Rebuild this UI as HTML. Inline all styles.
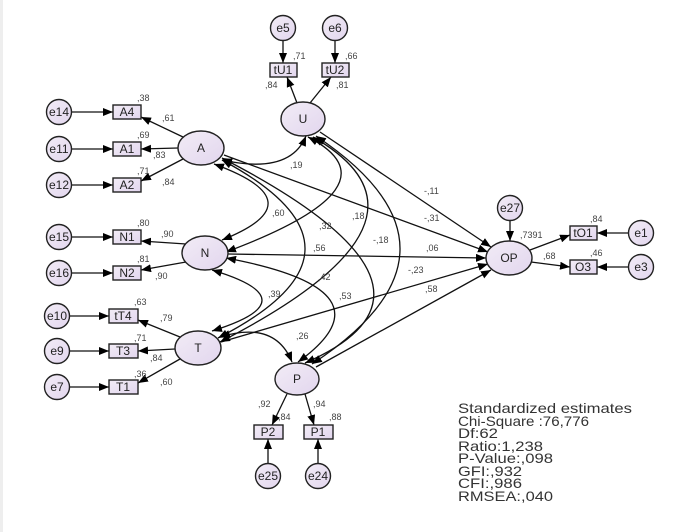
<!DOCTYPE html>
<html><head><meta charset="utf-8"><style>
html,body{margin:0;padding:0;background:#fff;}
svg{display:block;}
text{font-family:"Liberation Sans",Arial,sans-serif;}
.n{font-size:12px;fill:#222;text-anchor:middle;dominant-baseline:central;}
.l{font-size:9px;fill:#444;}
.s{font-size:14px;fill:#333;}
</style></head><body>
<svg width="684" height="532" viewBox="0 0 684 532" xmlns="http://www.w3.org/2000/svg">
<defs>
<linearGradient id="g" x1="0" y1="0" x2="1" y2="1"><stop offset="0" stop-color="#f2ecf6"/><stop offset="1" stop-color="#e2d6ee"/></linearGradient>
<marker id="a" viewBox="0 0 10 8" refX="10" refY="4" markerWidth="10" markerHeight="8" markerUnits="userSpaceOnUse" orient="auto-start-reverse"><path d="M0,0L10,4L0,8z" fill="#000"/></marker>
</defs>
<rect x="0" y="0" width="3" height="532" fill="#eee"/>
<g stroke="#111" stroke-width="1.3" fill="none">
<line x1="71" y1="112" x2="113" y2="112" marker-end="url(#a)"/>
<line x1="71" y1="149" x2="113" y2="149" marker-end="url(#a)"/>
<line x1="71" y1="185" x2="113" y2="185" marker-end="url(#a)"/>
<line x1="71" y1="237" x2="113" y2="237" marker-end="url(#a)"/>
<line x1="71" y1="273" x2="113" y2="273" marker-end="url(#a)"/>
<line x1="70" y1="316" x2="109" y2="316" marker-end="url(#a)"/>
<line x1="70" y1="351" x2="109" y2="351" marker-end="url(#a)"/>
<line x1="70" y1="387" x2="109" y2="387" marker-end="url(#a)"/>
<line x1="283" y1="41" x2="283" y2="63" marker-end="url(#a)"/>
<line x1="335" y1="41" x2="335" y2="63" marker-end="url(#a)"/>
<line x1="268" y1="464" x2="268" y2="439" marker-end="url(#a)"/>
<line x1="318" y1="464" x2="318" y2="439" marker-end="url(#a)"/>
<line x1="510" y1="220" x2="510" y2="241" marker-end="url(#a)"/>
<line x1="629" y1="233" x2="597" y2="233" marker-end="url(#a)"/>
<line x1="629" y1="267" x2="597" y2="267" marker-end="url(#a)"/>
<line x1="183" y1="137" x2="141" y2="117" marker-end="url(#a)"/>
<line x1="178" y1="148" x2="141" y2="149" marker-end="url(#a)"/>
<line x1="183" y1="159" x2="141" y2="181" marker-end="url(#a)"/>
<line x1="186" y1="244" x2="141" y2="241" marker-end="url(#a)"/>
<line x1="186" y1="262" x2="141" y2="270" marker-end="url(#a)"/>
<line x1="180" y1="337" x2="138" y2="320" marker-end="url(#a)"/>
<line x1="175" y1="349" x2="138" y2="351" marker-end="url(#a)"/>
<line x1="180" y1="359" x2="138" y2="383" marker-end="url(#a)"/>
<line x1="297" y1="103" x2="287" y2="77" marker-end="url(#a)"/>
<line x1="310" y1="103" x2="331" y2="77" marker-end="url(#a)"/>
<line x1="287" y1="394" x2="272" y2="425" marker-end="url(#a)"/>
<line x1="305" y1="394" x2="314" y2="425" marker-end="url(#a)"/>
<line x1="530" y1="250" x2="570" y2="235" marker-end="url(#a)"/>
<line x1="531" y1="262" x2="570" y2="267" marker-end="url(#a)"/>
<line x1="320" y1="132" x2="491" y2="247" marker-end="url(#a)"/>
<line x1="224" y1="155" x2="488" y2="252" marker-end="url(#a)"/>
<line x1="228" y1="254" x2="486" y2="258" marker-end="url(#a)"/>
<line x1="221" y1="342" x2="488" y2="264" marker-end="url(#a)"/>
<line x1="316" y1="367" x2="491" y2="270" marker-end="url(#a)"/>
<path d="M222,160 Q290,175 306,136" marker-start="url(#a)" marker-end="url(#a)"/>
<path d="M214,164 Q318,202 222,240" marker-start="url(#a)" marker-end="url(#a)"/>
<path d="M222,160 Q390,250 218,338" marker-start="url(#a)" marker-end="url(#a)"/>
<path d="M222,158 Q476,289 305,363" marker-start="url(#a)" marker-end="url(#a)"/>
<path d="M308,137 Q403,186 226,252" marker-start="url(#a)" marker-end="url(#a)"/>
<path d="M313,137 Q458,220 220,342" marker-start="url(#a)" marker-end="url(#a)"/>
<path d="M316,136 Q486,250 312,364" marker-start="url(#a)" marker-end="url(#a)"/>
<path d="M212,270 Q312,300 212,331" marker-start="url(#a)" marker-end="url(#a)"/>
<path d="M226,258 Q398,290 298,362" marker-start="url(#a)" marker-end="url(#a)"/>
<path d="M220,337 Q275,320 292,362" marker-start="url(#a)" marker-end="url(#a)"/>
</g>
<g stroke="#222" stroke-width="1.4" fill="url(#g)">
<circle cx="59" cy="112" r="12.5"/><circle cx="59" cy="149" r="12.5"/><circle cx="59" cy="185" r="12.5"/>
<circle cx="59" cy="237" r="12.5"/><circle cx="59" cy="273" r="12.5"/>
<circle cx="57" cy="316" r="12.5"/><circle cx="57" cy="351" r="12.5"/><circle cx="57" cy="387" r="12.5"/>
<circle cx="283" cy="28" r="12.5"/><circle cx="335" cy="28" r="12.5"/>
<circle cx="268" cy="476" r="12.5"/><circle cx="318" cy="476" r="12.5"/>
<circle cx="510" cy="208" r="12.5"/><circle cx="641" cy="233" r="12.5"/><circle cx="641" cy="267" r="12.5"/>
<ellipse cx="201" cy="148" rx="23" ry="17"/><ellipse cx="205" cy="253" rx="23" ry="17"/>
<ellipse cx="198" cy="348" rx="23" ry="17"/><ellipse cx="303" cy="119" rx="22" ry="17"/>
<ellipse cx="297" cy="379" rx="22" ry="16"/><ellipse cx="509" cy="258" rx="23" ry="17"/>
<rect x="113" y="105" width="28" height="14"/><rect x="113" y="142" width="28" height="14"/><rect x="113" y="178" width="28" height="14"/>
<rect x="113" y="230" width="28" height="14"/><rect x="113" y="266" width="28" height="14"/>
<rect x="109" y="309" width="29" height="14"/><rect x="109" y="344" width="29" height="14"/><rect x="109" y="380" width="29" height="14"/>
<rect x="270" y="63" width="27" height="14"/><rect x="322" y="63" width="27" height="14"/>
<rect x="254" y="425" width="29" height="14"/><rect x="304" y="425" width="29" height="14"/>
<rect x="570" y="226" width="27" height="14"/><rect x="570" y="260" width="27" height="14"/>
</g>
<g class="n">
<text x="59" y="112">e14</text><text x="59" y="149">e11</text><text x="59" y="185">e12</text>
<text x="59" y="237">e15</text><text x="59" y="273">e16</text>
<text x="57" y="316">e10</text><text x="57" y="351">e9</text><text x="57" y="387">e7</text>
<text x="283" y="28">e5</text><text x="335" y="28">e6</text>
<text x="268" y="476">e25</text><text x="318" y="476">e24</text>
<text x="510" y="208">e27</text><text x="641" y="233">e1</text><text x="641" y="267">e3</text>
<text x="201" y="148">A</text><text x="205" y="253">N</text><text x="198" y="348">T</text>
<text x="303" y="119">U</text><text x="297" y="379">P</text><text x="509" y="258">OP</text>
<text x="127" y="112">A4</text><text x="127" y="149">A1</text><text x="127" y="185">A2</text>
<text x="127" y="237">N1</text><text x="127" y="273">N2</text>
<text x="123" y="316">tT4</text><text x="123" y="351">T3</text><text x="123" y="387">T1</text>
<text x="283" y="70">tU1</text><text x="335" y="70">tU2</text>
<text x="268" y="432">P2</text><text x="318" y="432">P1</text>
<text x="583" y="233">tO1</text><text x="583" y="267">O3</text>
</g>
<g class="l">
<text x="137" y="101">,38</text><text x="162" y="121">,61</text>
<text x="137" y="138">,69</text><text x="153" y="158">,83</text>
<text x="137" y="174">,71</text><text x="162" y="185">,84</text>
<text x="137" y="226">,80</text><text x="161" y="237">,90</text>
<text x="137" y="262">,81</text><text x="155" y="279">,90</text>
<text x="134" y="305">,63</text><text x="160" y="321">,79</text>
<text x="134" y="341">,71</text><text x="150" y="361">,84</text>
<text x="134" y="377">,36</text><text x="160" y="385">,60</text>
<text x="293" y="59">,71</text><text x="345" y="59">,66</text>
<text x="265" y="88">,84</text><text x="336" y="88">,81</text>
<text x="258" y="407">,92</text><text x="278" y="420">,84</text>
<text x="313" y="407">,94</text><text x="329" y="420">,88</text>
<text x="520" y="238">,7391</text><text x="543" y="259">,68</text>
<text x="590" y="222">,84</text><text x="590" y="256">,46</text>
<text x="290" y="168">,19</text><text x="272" y="216">,60</text>
<text x="319" y="229">,32</text><text x="352" y="219">,18</text>
<text x="313" y="251">,56</text><text x="373" y="243">-,18</text>
<text x="268" y="297">,39</text><text x="318" y="280">,42</text>
<text x="339" y="299">,53</text><text x="296" y="339">,26</text>
<text x="424" y="194">-,11</text><text x="424" y="221">-,31</text>
<text x="426" y="251">,06</text><text x="408" y="273">-,23</text>
<text x="425" y="292">,58</text>
</g>
<g class="s">
<text x="458" y="413" textLength="174" lengthAdjust="spacingAndGlyphs">Standardized estimates</text>
<text x="458" y="426" textLength="131" lengthAdjust="spacingAndGlyphs">Chi-Square :76,776</text>
<text x="458" y="438" textLength="40" lengthAdjust="spacingAndGlyphs">Df:62</text>
<text x="458" y="451" textLength="85" lengthAdjust="spacingAndGlyphs">Ratio:1,238</text>
<text x="458" y="463" textLength="95" lengthAdjust="spacingAndGlyphs">P-Value:,098</text>
<text x="458" y="476" textLength="64" lengthAdjust="spacingAndGlyphs">GFI:,932</text>
<text x="458" y="488" textLength="64" lengthAdjust="spacingAndGlyphs">CFI:,986</text>
<text x="458" y="501" textLength="95" lengthAdjust="spacingAndGlyphs">RMSEA:,040</text>
</g>
</svg>
</body></html>
